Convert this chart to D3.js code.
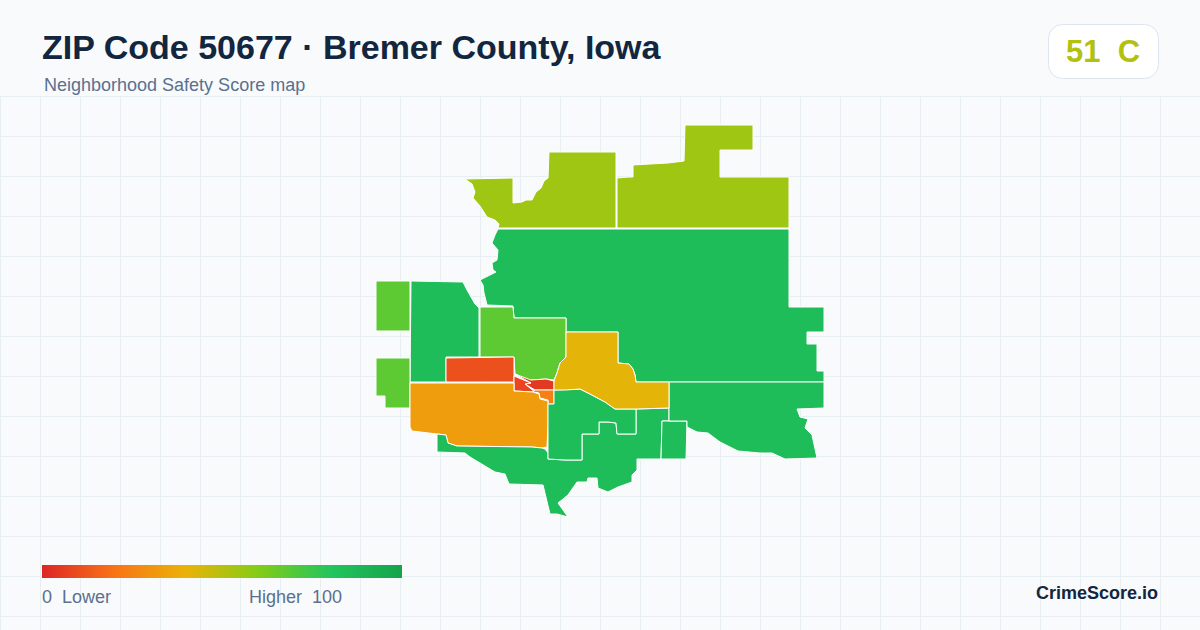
<!DOCTYPE html>
<html>
<head>
<meta charset="utf-8">
<title>ZIP Code 50677</title>
<script src="https://cdn.jsdelivr.net/npm/d3@7"></script>
<style>
  html, body { margin: 0; padding: 0; background: #f8fafb; }
  svg { display: block; font-family: "Liberation Sans", Arial, sans-serif; }
  .grid line { stroke: #e8eff2; stroke-width: 1; }
  .tract { stroke: #ffffff; stroke-width: 1; stroke-linejoin: round; }
</style>
</head>
<body>
<svg width="1200" height="630"></svg>
<script>
// Header and legend text
let title = "ZIP Code 50677 · Bremer County, Iowa";
let subtitle = "Neighborhood Safety Score map";
let overallScore = 51;
let overallGrade = "C";
let brand = "CrimeScore.io";
let legendLabels = ["0  Lower", "Higher  100"];

// Score colour ramp
let rampStops = [0, 20, 40, 60, 80, 100];
let rampColors = ["#dc2626", "#f97316", "#eab308", "#84cc16", "#22c55e", "#16a34a"];

// Tract scores
let tractScores = [55, 55, 85, 85, 68, 68, 68, 11, 5, 8, 24, 33, 85, 85, 85, 85, 41];

// Tract outlines in map units
let northWest = [[89,54],[137,53],[137,78],[146,77],[150,75],[156,75],[160,67],[165,63],[168,56],[172,53],[173,27],[240,27],[240,103],[122,103],[123,99],[119,95],[111,92],[104,81],[97,73],[99,67],[96,59]];
let northEast = [[241,103],[241,53],[252,52],[257,52],[257,40],[274,39],[292,38],[308,36],[309,0],[377,0],[377,25],[344,25],[344,52],[413,52],[413,103]];
let bigNorth = [[122,104],[413,104],[413,182],[448,182],[448,207],[431,207],[431,219],[441,219],[441,246],[448,246],[448,257],[260,257],[259,250],[257,244],[253,239],[242,238],[242,207],[190,207],[190,193],[138,193],[137,181],[111,180],[108,168],[107,160],[104,155],[120,147],[117,145],[116,138],[121,135],[122,125],[116,118],[119,110]];
let west = [[35,156],[87,157],[91,165],[99,179],[103,183],[103,232],[70,232],[70,257],[34,257]];
let farWestTop = [[0,156],[34,156],[34,206],[0,206]];
let farWestLow = [[0,233],[34,233],[34,283],[9,283],[9,271],[0,271]];
let northCentral = [[104,182],[137,182],[138,193],[190,193],[190,232],[184,238],[181,248],[178,255],[170,254],[155,255],[154,257],[139,249],[138,232],[104,232]];
let redWest = [[70,233],[138,232],[138,249],[138,257],[70,257]];
let redCore = [[139,249],[155,255],[170,254],[178,256],[178,265],[159,265],[154,262],[149,259],[155,258]];
let redSliver = [[138,251],[155,258],[149,259],[159,267],[138,266],[138,257]];
let orangeSmall = [[157,267],[159,265],[178,265],[178,279],[172,279],[172,275],[164,273],[163,268]];
let orangeBig = [[34,258],[138,258],[138,266],[157,267],[163,269],[164,274],[172,276],[172,300],[171,322],[166,323],[156,322],[81,321],[72,318],[70,310],[61,309],[36,306],[34,302]];
let south = [[61,309],[70,310],[72,318],[81,321],[156,322],[166,323],[169,324],[172,328],[172,334],[189,335],[206,335],[206,309],[223,309],[223,297],[232,297],[240,298],[241,309],[260,309],[260,284],[293,283],[293,296],[286,296],[285,334],[261,334],[261,345],[256,350],[256,357],[242,362],[232,367],[222,363],[221,353],[212,353],[211,357],[201,357],[194,367],[192,370],[182,378],[192,392],[181,389],[174,389],[167,360],[133,359],[129,349],[119,347],[104,338],[94,332],[89,328],[61,327]];
let middle = [[178,265],[204,264],[214,269],[229,277],[239,284],[260,284],[260,309],[241,309],[240,298],[232,297],[223,297],[223,309],[206,309],[206,335],[189,335],[172,334],[172,279],[178,279]];
let box = [[286,296],[311,296],[310,334],[285,334]];
let southEast = [[293,257],[448,257],[448,283],[421,284],[424,292],[432,294],[429,303],[436,310],[441,333],[409,334],[396,328],[384,328],[362,326],[344,317],[332,308],[321,307],[311,302],[311,296],[293,296]];
let yellow = [[190,207],[242,207],[242,238],[253,239],[257,244],[259,250],[260,257],[293,257],[293,283],[260,284],[239,284],[229,277],[214,269],[204,264],[190,265],[178,265],[178,256],[181,248],[184,238],[190,232]];

let tractRings = [northWest, northEast, bigNorth, west, farWestTop, farWestLow, northCentral, redWest, redCore, redSliver, orangeSmall, orangeBig, south, middle, box, southEast, yellow];

// Set up
let svg = d3.select("svg");
let width = 1200;
let height = 630;
let gridStep = 40;
let gridTop = 96;

let color = d3.scaleLinear().domain(rampStops).range(rampColors);

let x = d3.scaleLinear().domain([0, 448]).range([376, 824]);
let y = d3.scaleLinear().domain([0, 392]).range([125, 517]);

// Draw background grid
let grid = svg.append("g").attr("class", "grid");

grid.selectAll("line.v")
    .data(d3.range(0, width, gridStep))
    .enter().append("line")
    .attr("class", "v")
    .attr("x1", function(d) { return d + 0.5; })
    .attr("x2", function(d) { return d + 0.5; })
    .attr("y1", gridTop)
    .attr("y2", height);

grid.selectAll("line.h")
    .data(d3.range(gridTop, height, gridStep))
    .enter().append("line")
    .attr("class", "h")
    .attr("x1", 0)
    .attr("x2", width)
    .attr("y1", function(d) { return d + 0.5; })
    .attr("y2", function(d) { return d + 0.5; });

// Draw tracts
let ringPath = d3.line()
    .x(function(d) { return x(d[0]); })
    .y(function(d) { return y(d[1]); })
    .curve(d3.curveLinearClosed);

svg.append("g").selectAll("path")
    .data(tractRings)
    .enter().append("path")
    .attr("class", "tract")
    .attr("d", ringPath)
    .attr("fill", function(d, i) { return color(tractScores[i]); });

// Header
svg.append("text")
    .attr("x", 42)
    .attr("y", 59)
    .attr("font-size", 34)
    .attr("font-weight", 700)
    .attr("fill", "#12263f")
    .text(title);

svg.append("text")
    .attr("x", 44)
    .attr("y", 91)
    .attr("font-size", 18)
    .attr("fill", "#5a7090")
    .text(subtitle);

// Score badge
svg.append("rect")
    .attr("x", 1048.5)
    .attr("y", 24.5)
    .attr("width", 110)
    .attr("height", 54)
    .attr("rx", 14)
    .attr("fill", "#ffffff")
    .attr("stroke", "#dfe5ee");

svg.append("text")
    .attr("x", 1103)
    .attr("y", 62)
    .attr("text-anchor", "middle")
    .attr("font-size", 31)
    .attr("font-weight", 700)
    .attr("fill", color(overallScore))
    .style("white-space", "pre")
    .text(overallScore + "  " + overallGrade);

// Legend
let legendX = d3.scaleLinear().domain([0, 100]).range([42, 402]);

let gradient = svg.append("defs").append("linearGradient")
    .attr("id", "ramp");

gradient.selectAll("stop")
    .data(rampStops)
    .enter().append("stop")
    .attr("offset", function(d) { return d + "%"; })
    .attr("stop-color", function(d) { return color(d); });

svg.append("rect")
    .attr("x", legendX(0))
    .attr("y", 565)
    .attr("width", legendX(100) - legendX(0))
    .attr("height", 13)
    .attr("fill", "url(#ramp)");

svg.selectAll("text.legend")
    .data(legendLabels)
    .enter().append("text")
    .attr("class", "legend")
    .attr("x", function(d, i) { return i == 0 ? 42 : 249; })
    .attr("y", 603)
    .attr("font-size", 18)
    .attr("fill", "#5a7090")
    .style("white-space", "pre")
    .text(function(d) { return d; });

svg.append("text")
    .attr("x", 1158)
    .attr("y", 599)
    .attr("text-anchor", "end")
    .attr("font-size", 18)
    .attr("font-weight", 700)
    .attr("fill", "#12263f")
    .text(brand);
</script>
</body>
</html>
